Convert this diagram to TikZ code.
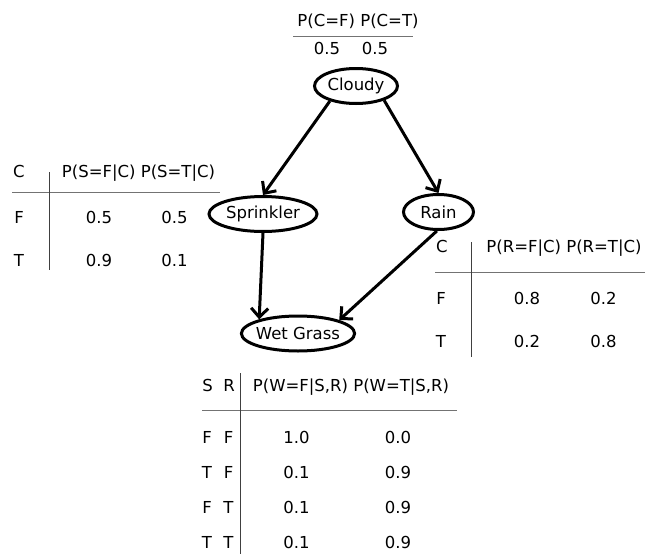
\documentclass[tikz,border=0pt]{standalone}
\usepackage{fontspec}
\setmainfont{DejaVu Sans}
\usepackage{tikz}
\usetikzlibrary{arrows.meta, positioning, shapes.geometric}

\begin{document}
\begin{tikzpicture}[
    x=1pt, y=-1pt,
    font=\fontsize{16.5}{20}\selectfont,
    var/.style={
        ellipse, draw, line width=3pt,
        inner xsep=-2pt, inner ysep=0pt,
        minimum height=35pt
    },
    arrow/.style={-{Straight Barb[length=9pt, width=17pt]}, line width=3pt},
    rule/.style={draw=black!55, line width=1pt},
    vrule/.style={draw=black!75, line width=1pt},
    cell/.style={anchor=base, inner sep=0pt}
]
\useasboundingbox (0,0) rectangle (645,554);

\node[var, minimum width=83pt] (cloudy) at (356,86) {Cloudy};
\node[var, minimum width=108pt] (sprinkler) at (263,214) {Sprinkler};
\node[var, minimum width=70pt] (rain) at (438.5,212) {Rain};
\node[var, minimum width=108pt] (wetgrass) at (298,333.5) {Wet Grass};

\draw[arrow] (cloudy.210) -- (sprinkler.north);
\draw[arrow] (cloudy.-27) -- (rain.north);
\draw[arrow] (sprinkler.south) -- (wetgrass.160);
\draw[arrow] (rain.265) -- (wetgrass.18);

\node[cell] (pc-head) at (358,27) {P(C=F) P(C=T)};
\node[cell] (pc-f) at (327,54) {0.5};
\node[cell] (pc-t) at (375,54) {0.5};
\draw[rule] (293,36) -- (413,36);

\node[cell] (ps-c) at (19,177) {C};
\node[cell] (ps-head) at (138.5,177) {P(S=F|C) P(S=T|C)};
\draw[rule] (12,192) -- (220,192);
\draw[vrule] (49,172) -- (49,270);
\foreach \row/\yy/\pf/\pt in {F/223/0.5/0.5, T/266/0.9/0.1} {
    \node[cell] (ps-\row) at (19,\yy) {\row};
    \node[cell] (ps-\row-f) at (99,\yy) {\pf};
    \node[cell] (ps-\row-t) at (174.5,\yy) {\pt};
}

\node[cell] (pr-c) at (442,252) {C};
\node[cell] (pr-head) at (564,252) {P(R=F|C) P(R=T|C)};
\draw[rule] (435,272) -- (645,272);
\draw[vrule] (471.5,242) -- (471.5,357);
\foreach \row/\yy/\pf/\pt in {F/304/0.8/0.2, T/347/0.2/0.8} {
    \node[cell] (pr-\row) at (441,\yy) {\row};
    \node[cell] (pr-\row-f) at (527,\yy) {\pf};
    \node[cell] (pr-\row-t) at (603.5,\yy) {\pt};
}

\node[cell] (pw-s) at (207.5,391) {S};
\node[cell] (pw-r) at (229,391) {R};
\node[cell] (pw-head) at (351,391) {P(W=F|S,R) P(W=T|S,R)};
\draw[rule] (202,410) -- (456.5,410);
\draw[vrule] (240,373) -- (240,554);
\foreach \s/\r/\yy/\pf/\pt in {F/F/443/1.0/0.0, T/F/478/0.1/0.9, F/T/513/0.1/0.9, T/T/548/0.1/0.9} {
    \node[cell] (pw-\s\r-s) at (207,\yy) {\s};
    \node[cell] (pw-\s\r-r) at (228.5,\yy) {\r};
    \node[cell] (pw-\s\r-f) at (296.5,\yy) {\pf};
    \node[cell] (pw-\s\r-t) at (398,\yy) {\pt};
}
\end{tikzpicture}
\end{document}
